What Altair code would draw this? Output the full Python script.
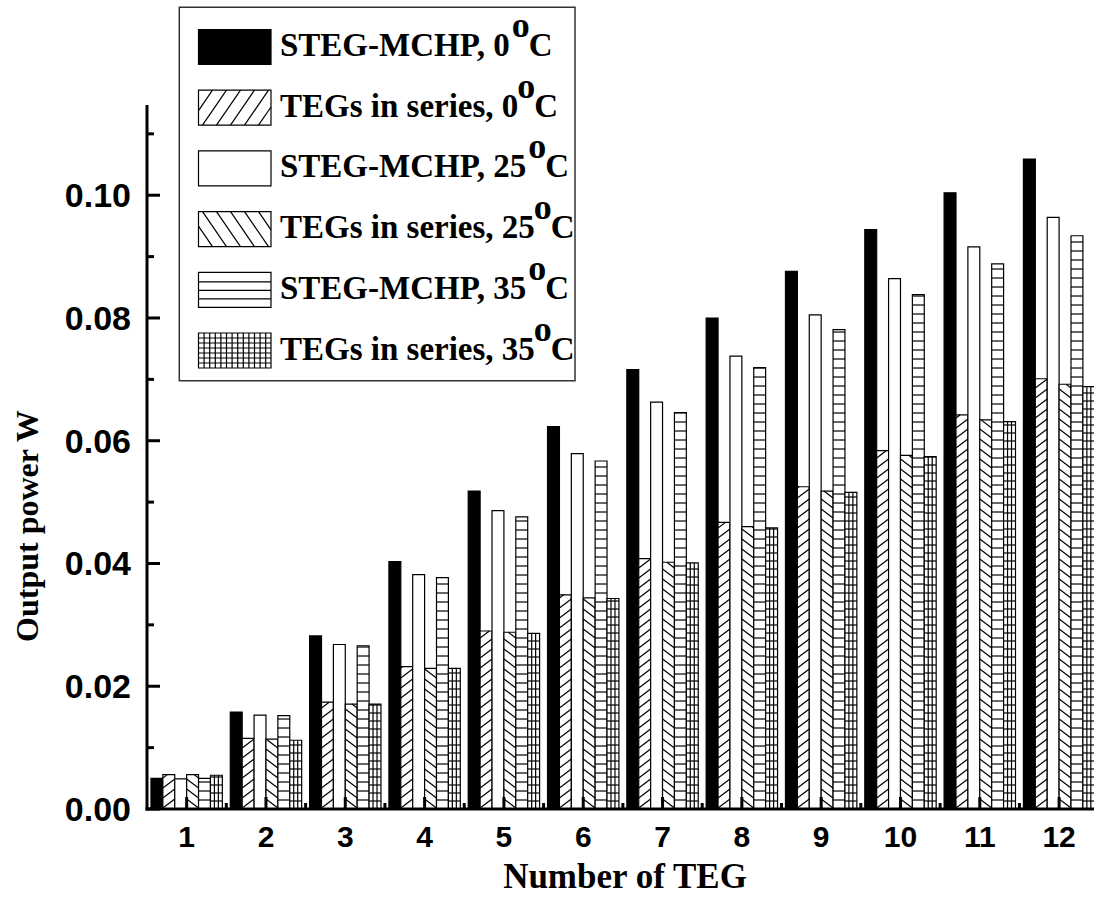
import altair as alt
import pandas as pd

# ---------------- data ----------------
groups = [1, 2, 3, 4, 5, 6, 7, 8, 9, 10, 11, 12]
names = ["STEG-MCHP", "TEGs in series", "STEG-MCHP", "TEGs in series", "STEG-MCHP", "TEGs in series"]
temps = ["0", "0", "25", "25", "35", "35"]

steg_0 = [0.0050, 0.0158, 0.0282, 0.0403, 0.0518, 0.0623, 0.0716, 0.0800, 0.0876, 0.0944, 0.1004, 0.1059]
teg_0 = [0.0056, 0.0115, 0.0174, 0.0232, 0.0290, 0.0349, 0.0408, 0.0467, 0.0525, 0.0584, 0.0642, 0.0701]
steg_25 = [0.0049, 0.0153, 0.0268, 0.0382, 0.0486, 0.0579, 0.0663, 0.0738, 0.0805, 0.0864, 0.0916, 0.0964]
teg_25 = [0.0056, 0.0114, 0.0171, 0.0229, 0.0288, 0.0344, 0.0402, 0.0460, 0.0518, 0.0576, 0.0634, 0.0692]
steg_35 = [0.0050, 0.0152, 0.0266, 0.0377, 0.0476, 0.0567, 0.0646, 0.0719, 0.0781, 0.0838, 0.0888, 0.0934]
teg_35 = [0.0055, 0.0112, 0.0171, 0.0229, 0.0286, 0.0343, 0.0401, 0.0458, 0.0516, 0.0574, 0.0631, 0.0688]
series_values = [steg_0, teg_0, steg_25, teg_25, steg_35, teg_35]

y_major = [0.00, 0.02, 0.04, 0.06, 0.08, 0.10]
y_minor = [0.01, 0.03, 0.05, 0.07, 0.09, 0.11]
x_title = "Number of TEG"
y_title = "Output power W"

# ---------------- layout ----------------
W, H = 947, 704
X_DOM = [0.5, 12.44]
Y_DOM = [0, 0.1147]
PPY = H / Y_DOM[1]
BW = 0.15  # bar width in x units
R = 9 / PPY     # diagonal rise
S = 10 / PPY    # diagonal spacing
SH = 9 / PPY    # horizontal-line spacing
SG = 8 / PPY    # grid spacing
LW = 1.2

xs = alt.Scale(domain=X_DOM, nice=False, zero=False)
ys = alt.Scale(domain=Y_DOM, nice=False, zero=False)

rows = []
for k, vals in enumerate(series_values):
    for g, v in zip(groups, vals):
        rows.append({"group": g, "k": k, "series": f"{names[k]}, {temps[k]}°C", "value": v})
df = pd.DataFrame(rows)

base = alt.Chart(df).transform_calculate(
    xl=f"datum.group - 0.45 + datum.k * {BW}",
    xr=f"datum.group - 0.45 + (datum.k + 1) * {BW}",
)

bars = base.mark_rect(stroke="black", strokeWidth=LW).encode(
    x=alt.X("xl:Q", scale=xs, axis=None),
    x2="xr:Q",
    y=alt.Y("value:Q", scale=ys, axis=None),
    y2=alt.datum(0),
    fill=alt.condition("datum.k == 0", alt.value("black"), alt.value("white")),
)

# "/" hatch (TEGs in series, 0 C)
diag_up = (
    base.transform_filter("datum.k == 1")
    .transform_calculate(hs=f"sequence({-R:.7f}, datum.value, {S:.7f})")
    .transform_flatten(["hs"])
    .transform_calculate(y0="max(datum.hs, 0)")
    .transform_calculate(y1=f"min(datum.hs + {R:.7f}, datum.value)")
    .transform_calculate(x0=f"datum.xl + (datum.y0 - datum.hs) / {R:.7f} * {BW}")
    .transform_calculate(x1=f"datum.xl + (datum.y1 - datum.hs) / {R:.7f} * {BW}")
    .transform_filter("datum.y1 > datum.y0")
    .mark_rule(color="black", strokeWidth=LW)
    .encode(x=alt.X("x0:Q", scale=xs, axis=None), x2="x1:Q",
            y=alt.Y("y0:Q", scale=ys, axis=None), y2="y1:Q")
)

# "\" hatch (TEGs in series, 25 C)
diag_dn = (
    base.transform_filter("datum.k == 3")
    .transform_calculate(hs=f"sequence({-R:.7f}, datum.value, {S:.7f})")
    .transform_flatten(["hs"])
    .transform_calculate(y0="max(datum.hs, 0)")
    .transform_calculate(y1=f"min(datum.hs + {R:.7f}, datum.value)")
    .transform_calculate(x0=f"datum.xl + (1 - (datum.y0 - datum.hs) / {R:.7f}) * {BW}")
    .transform_calculate(x1=f"datum.xl + (1 - (datum.y1 - datum.hs) / {R:.7f}) * {BW}")
    .transform_filter("datum.y1 > datum.y0")
    .mark_rule(color="black", strokeWidth=LW)
    .encode(x=alt.X("x0:Q", scale=xs, axis=None), x2="x1:Q",
            y=alt.Y("y0:Q", scale=ys, axis=None), y2="y1:Q")
)

# horizontal lines (STEG-MCHP 35 C and grid)
hlines = (
    base.transform_filter("datum.k >= 4")
    .transform_calculate(st=f"datum.k == 4 ? {SH:.7f} : {SG:.7f}")
    .transform_calculate(hs="sequence(datum.st, datum.value, datum.st)")
    .transform_flatten(["hs"])
    .mark_rule(color="black", strokeWidth=LW)
    .encode(x=alt.X("xl:Q", scale=xs, axis=None), x2="xr:Q",
            y=alt.Y("hs:Q", scale=ys, axis=None))
)

# vertical lines of the grid
vlines = (
    base.transform_filter("datum.k == 5")
    .transform_calculate(vv="[1, 2]")
    .transform_flatten(["vv"])
    .transform_calculate(xv=f"datum.xl + datum.vv * {BW} / 3")
    .mark_rule(color="black", strokeWidth=LW)
    .encode(x=alt.X("xv:Q", scale=xs, axis=None),
            y=alt.Y("value:Q", scale=ys, axis=None), y2=alt.datum(0))
)

# ---------------- axes drawn by hand ----------------
one = pd.DataFrame({"a": [0]})
x_dom = alt.Chart(one).mark_rule(color="black", strokeWidth=3).encode(
    x=alt.value(-1.5), x2=alt.value(W), y=alt.value(H))
y_dom = alt.Chart(one).mark_rule(color="black", strokeWidth=3).encode(
    x=alt.value(0), y=alt.value(0), y2=alt.value(H + 1.5))

xt_df = pd.DataFrame({"g": groups})
x_major = alt.Chart(xt_df).mark_rule(color="black", strokeWidth=3).encode(
    x=alt.X("g:Q", scale=xs, axis=None), y=alt.value(H), y2=alt.value(H - 12))
x_minor = (
    alt.Chart(xt_df).transform_filter(f"datum.g < {groups[-1]}")
    .transform_calculate(gm="datum.g + 0.5")
    .mark_rule(color="black", strokeWidth=3)
    .encode(x=alt.X("gm:Q", scale=xs, axis=None), y=alt.value(H), y2=alt.value(H - 6))
)
x_lab = alt.Chart(xt_df).mark_text(
    font="Liberation Sans", fontSize=30, fontWeight="bold", color="black",
    align="center", baseline="alphabetic").encode(
    x=alt.X("g:Q", scale=xs, axis=None), y=alt.value(H + 38), text="g:Q")

ymaj_df = pd.DataFrame({"t": y_major})
y_maj = alt.Chart(ymaj_df).mark_rule(color="black", strokeWidth=3).encode(
    y=alt.Y("t:Q", scale=ys, axis=None), x=alt.value(0), x2=alt.value(13))
y_min = alt.Chart(pd.DataFrame({"t": y_minor})).mark_rule(color="black", strokeWidth=3).encode(
    y=alt.Y("t:Q", scale=ys, axis=None), x=alt.value(0), x2=alt.value(7))
y_lab = alt.Chart(ymaj_df).transform_calculate(lab="format(datum.t, '.2f')").mark_text(
    font="Liberation Sans", fontSize=34, fontWeight="bold", color="black",
    align="right", baseline="alphabetic", dy=12).encode(
    y=alt.Y("t:Q", scale=ys, axis=None), x=alt.value(-16), text="lab:N")

x_tit = alt.Chart(one).mark_text(
    font="Liberation Serif", fontSize=35, fontWeight="bold", color="black",
    align="center", baseline="alphabetic", text=x_title).encode(
    x=alt.value(478), y=alt.value(783))
y_tit = alt.Chart(one).mark_text(
    font="Liberation Serif", fontSize=32, fontWeight="bold", color="black",
    align="center", baseline="alphabetic", angle=270, text=y_title).encode(
    x=alt.value(-109), y=alt.value(421))

# ---------------- legend (pixel coords relative to plot origin) ----------------
LX0, LX1 = 51.5, 124.0
LT = 133.0
FS = 33
tw = {' ': 250, ',': 250, '-': 333, '0': 500, '2': 500, '3': 500, '5': 500, 'C': 722, 'E': 667,
      'G': 778, 'H': 778, 'M': 944, 'P': 611, 'S': 556, 'T': 667, 'e': 444, 'i': 278, 'n': 556,
      'r': 444, 's': 389}
prefixes = [f"{n}, {t}" for n, t in zip(names, temps)]
supx = [LT + sum(tw.get(c, 500) for c in p) * FS / 1000 - 1 for p in prefixes]
leg_df = pd.DataFrame({"r": list(range(6)), "prefix": prefixes, "supx": supx,
                       "cx": [v + 17 for v in supx]})
leg = alt.Chart(leg_df).transform_calculate(top="-75.5 + 60.7 * datum.r").transform_calculate(
    bot="datum.top + 35", base="datum.top + 26.5", supb="datum.top + 7.5")

PX = dict(scale=None, axis=None)

box = alt.Chart(one).mark_rect(fill="white", stroke="#333333", strokeWidth=1.5).encode(
    x=alt.value(32.3), x2=alt.value(428), y=alt.value(-97.7), y2=alt.value(275.7))

swatch = leg.mark_rect(stroke="black", strokeWidth=LW).encode(
    x=alt.value(LX0), x2=alt.value(LX1),
    y=alt.Y("top:Q", **PX), y2="bot:Q",
    fill=alt.condition("datum.r == 0", alt.value("black"), alt.value("white")),
)

DXL, SHL, STEPL = 24, 35, 14
leg_up = (
    leg.transform_filter("datum.r == 1")
    .transform_calculate(xb=f"sequence({LX0 - DXL}, {LX1}, {STEPL})")
    .transform_flatten(["xb"])
    .transform_calculate(umin=f"max(0, ({LX0} - datum.xb) / {DXL})")
    .transform_calculate(umax=f"min(1, ({LX1} - datum.xb) / {DXL})")
    .transform_filter("datum.umax > datum.umin")
    .transform_calculate(xa=f"datum.xb + datum.umin * {DXL}", ya=f"datum.bot - datum.umin * {SHL}",
                         xe=f"datum.xb + datum.umax * {DXL}", ye=f"datum.bot - datum.umax * {SHL}")
    .mark_rule(color="black", strokeWidth=LW)
    .encode(x=alt.X("xa:Q", **PX), x2="xe:Q", y=alt.Y("ya:Q", **PX), y2="ye:Q")
)
leg_dn = (
    leg.transform_filter("datum.r == 3")
    .transform_calculate(xb=f"sequence({LX0 - DXL}, {LX1}, {STEPL})")
    .transform_flatten(["xb"])
    .transform_calculate(umin=f"max(0, ({LX0} - datum.xb) / {DXL})")
    .transform_calculate(umax=f"min(1, ({LX1} - datum.xb) / {DXL})")
    .transform_filter("datum.umax > datum.umin")
    .transform_calculate(xa=f"datum.xb + datum.umin * {DXL}", ya=f"datum.top + datum.umin * {SHL}",
                         xe=f"datum.xb + datum.umax * {DXL}", ye=f"datum.top + datum.umax * {SHL}")
    .mark_rule(color="black", strokeWidth=LW)
    .encode(x=alt.X("xa:Q", **PX), x2="xe:Q", y=alt.Y("ya:Q", **PX), y2="ye:Q")
)
leg_h = (
    leg.transform_filter("datum.r >= 4")
    .transform_calculate(off="datum.r == 4 ? sequence(8.5, 34, 8.5) : sequence(5, 34, 5)")
    .transform_flatten(["off"])
    .transform_calculate(yy="datum.bot - datum.off")
    .mark_rule(color="black", strokeWidth=LW)
    .encode(x=alt.value(LX0), x2=alt.value(LX1), y=alt.Y("yy:Q", **PX))
)
leg_v = (
    leg.transform_filter("datum.r == 5")
    .transform_calculate(off=f"sequence(5.6, {LX1 - LX0 - 1}, 5.6)")
    .transform_flatten(["off"])
    .transform_calculate(xx=f"{LX0} + datum.off")
    .mark_rule(color="black", strokeWidth=LW)
    .encode(x=alt.X("xx:Q", **PX), y=alt.Y("top:Q", **PX), y2="bot:Q")
)

txt_kw = dict(align="left", baseline="alphabetic", font="Liberation Serif", fontWeight="bold", color="black")
t_pre = leg.mark_text(fontSize=FS, **txt_kw).encode(
    x=alt.value(LT), y=alt.Y("base:Q", **PX), text="prefix:N")
t_sup = leg.mark_text(fontSize=36, **txt_kw).encode(
    x=alt.X("supx:Q", **PX), y=alt.Y("supb:Q", **PX), text=alt.value("o"))
t_c = leg.mark_text(fontSize=FS, **txt_kw).encode(
    x=alt.X("cx:Q", **PX), y=alt.Y("base:Q", **PX), text=alt.value("C"))

chart = alt.layer(
    bars, diag_up, diag_dn, hlines, vlines,
    x_dom, y_dom, x_major, x_minor, y_maj, y_min, x_lab, y_lab, x_tit, y_tit,
    box, swatch, leg_up, leg_dn, leg_h, leg_v, t_pre, t_sup, t_c,
).properties(
    width=W, height=H,
    background="white",
    autosize=alt.AutoSizeParams(type="none"),
    padding={"left": 147, "top": 105, "right": 0, "bottom": 88},
).configure_view(stroke=None, strokeWidth=0)

chart.save("out.html", embed_options={"renderer": "svg", "actions": False})
